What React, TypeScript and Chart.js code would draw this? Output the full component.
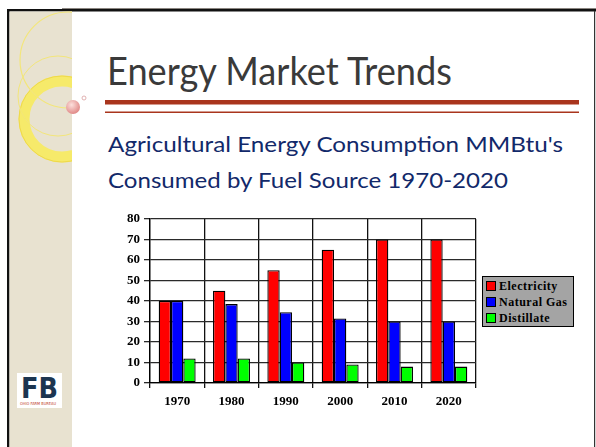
import React, { useEffect, useRef } from 'react';
import { Chart, registerables } from 'chart.js';

Chart.register(...registerables);

const categories = ['1970', '1980', '1990', '2000', '2010', '2020'];
const electricity = [40, 45, 55, 65, 70, 70];
const naturalGas = [40, 38.5, 34.5, 31.5, 30, 30];
const distillate = [12, 12, 10, 9, 8, 8];
const seriesLabels = ['Electricity', 'Natural Gas', 'Distillate'];
const seriesColors = ['#ff0000', '#0000ff', '#00ff00'];
const yMin = 0;
const yMax = 80;
const yStep = 10;

const tickFont = { family: 'Liberation Serif', weight: 'bold' as const, size: 13 };

export default function App() {
  const ref = useRef<HTMLCanvasElement>(null);

  useEffect(() => {
    const series = [electricity, naturalGas, distillate];
    const chart = new Chart(ref.current!, {
      type: 'bar',
      data: {
        labels: categories,
        datasets: series.map((d, i) => ({
          label: seriesLabels[i],
          data: d,
          backgroundColor: seriesColors[i],
          borderColor: '#000',
          borderWidth: 1.3,
          borderSkipped: false,
          categoryPercentage: 0.68,
          barPercentage: 1,
        })),
      },
      options: {
        responsive: false,
        animation: false,
        devicePixelRatio: 1,
        layout: { padding: { top: 14, right: 4, left: 0, bottom: 0 } },
        plugins: { legend: { display: false }, tooltip: { enabled: false } },
        scales: {
          x: {
            grid: { offset: true, color: '#111', lineWidth: 1.3, tickLength: 5, drawTicks: true },
            border: { color: '#000', width: 1.3 },
            ticks: { color: '#000', font: tickFont, padding: 6, maxRotation: 0 },
            afterFit: (s: any) => { s.height = 32; },
          },
          y: {
            min: yMin,
            max: yMax,
            ticks: { stepSize: yStep, color: '#000', font: tickFont, padding: 4 },
            grid: { color: '#2a2a2a', lineWidth: 1.3, tickLength: 6 },
            border: { color: '#000', width: 1.3 },
            afterFit: (s: any) => { s.width = 50; },
          },
        },
      },
    } as any);
    return () => chart.destroy();
  }, []);

  const legendRows = [286, 302, 318];

  return (
    <div style={{ position: 'absolute', left: 0, top: 0, width: 596, height: 447, background: '#fff', overflow: 'hidden' }}>
      <svg width={596} height={447} style={{ position: 'absolute', left: 0, top: 0 }}>
        <defs>
          <clipPath id="panelClip">
            <rect x={10} y={11} width={62} height={436} />
          </clipPath>
          <radialGradient id="ball" cx="40%" cy="35%" r="65%">
            <stop offset="0%" stopColor="#fde0dc" />
            <stop offset="100%" stopColor="#e08a88" />
          </radialGradient>
        </defs>
        {/* frame */}
        <rect x={62} y={8} width={534} height={1} fill="#8a8580" />
        <rect x={7} y={9} width={589} height={2.5} fill="#111" />
        <rect x={7} y={9} width={2.5} height={438} fill="#111" />
        <rect x={594} y={11} width={1.2} height={436} fill="#333" />
        {/* left panel */}
        <rect x={9.5} y={11.5} width={62.5} height={436} fill="#e8e2d0" />
        <g clipPath="url(#panelClip)">
          <circle cx={62} cy={119} r={38} fill="none" stroke="#f6ea6a" strokeWidth={11} />
          <circle cx={62} cy={119} r={43} fill="none" stroke="#efd94a" strokeWidth={1} />
          <circle cx={68} cy={60} r={48} fill="none" stroke="#f3e67a" strokeWidth={1.2} />
          <circle cx={58} cy={96} r={40} fill="none" stroke="#f3e67a" strokeWidth={1} />
        </g>
        <circle cx={73} cy={107} r={7} fill="url(#ball)" />
        <circle cx={84} cy={98} r={2} fill="#fff" stroke="#d9a0a0" strokeWidth={0.8} />
        {/* logo */}
        <rect x={17} y={373} width={45} height={35} fill="#fff" />
        <text x={21} y={398} fontFamily="DejaVu Sans" fontWeight="bold" fontSize={29} fill="#1c3550" textLength={37} lengthAdjust="spacingAndGlyphs">FB</text>
        <text x={20} y={404.5} fontFamily="DejaVu Sans" fontSize={4} fill="#c0392b" textLength={36} lengthAdjust="spacingAndGlyphs">OHIO FARM BUREAU</text>
        {/* title */}
        <text x={107} y={85} fontFamily="Lato" fontSize={38} fill="#3a3a3a" textLength={345} lengthAdjust="spacingAndGlyphs">Energy Market Trends</text>
        <rect x={105} y={100} width={474} height={4.5} fill="#a9351d" />
        <rect x={105} y={111.5} width={474} height={1.5} fill="#a9351d" />
        {/* subtitle */}
        <text x={108} y={152} fontFamily="Lato" fontSize={22} fill="#12296a" textLength={455} lengthAdjust="spacingAndGlyphs">Agricultural Energy Consumption MMBtu's</text>
        <text x={108} y={188} fontFamily="Lato" fontSize={22} fill="#12296a" textLength={400} lengthAdjust="spacingAndGlyphs">Consumed by Fuel Source 1970-2020</text>
        {/* legend */}
        <rect x={482.5} y={276.5} width={91} height={50} fill="#a4a4a4" stroke="#000" strokeWidth={1} />
        {seriesLabels.map((lab, i) => (
          <g key={lab}>
            <rect x={486.5} y={legendRows[i] - 4.5} width={9} height={9} fill={seriesColors[i]} stroke="#000" strokeWidth={1} />
            <text x={499} y={legendRows[i] + 4} fontFamily="Liberation Serif" fontWeight="bold" fontSize={12} fill="#000" letterSpacing={0.5}>{lab}</text>
          </g>
        ))}
      </svg>
      <canvas ref={ref} width={380} height={210} style={{ position: 'absolute', left: 100, top: 205 }} />
    </div>
  );
}
